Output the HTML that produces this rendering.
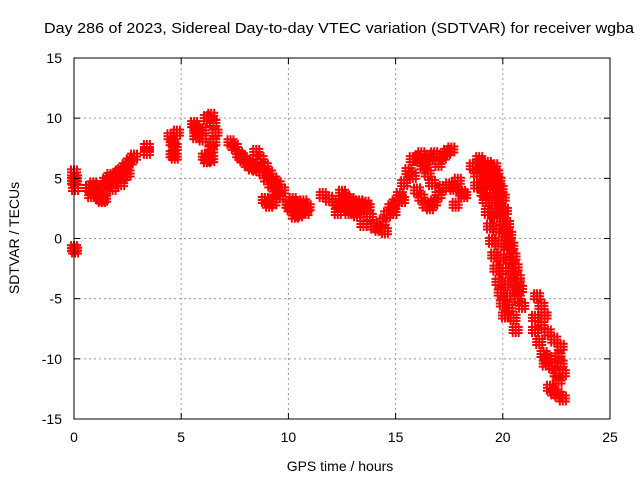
<!DOCTYPE html>
<html><head><meta charset="utf-8"><style>
body{margin:0;background:#fff}
svg text{font-family:"Liberation Sans",sans-serif;font-size:14px;fill:#000}
</style></head><body>
<svg id="c" width="640" height="480">
<text x="44" y="33" textLength="590" lengthAdjust="spacingAndGlyphs" style="font-size:15px">Day 286 of 2023, Sidereal Day-to-day VTEC variation (SDTVAR) for receiver wgba</text>
<g id="grid"></g>
<g id="pts"></g>
<rect x="74" y="58" width="536" height="361" fill="none" stroke="#000"/>
<g id="ticks"></g>
<text x="340" y="471" text-anchor="middle">GPS time / hours</text>
<text transform="translate(19,238) rotate(-90)" text-anchor="middle">SDTVAR / TECUs</text>
</svg>
<script>
const xTicks=[0,5,10,15,20,25];
const yTicks=[-15,-10,-5,0,5,10,15];
const times=[0,0,0.05,0.05,0,0.05,
0.7,0.8,0.9,1.0,1.1,1.2,1.3,1.4,0.9,1.1,
1.2,1.4,1.6,1.8,2.0,2.2,2.4,2.6,2.8,1.5,1.7,1.9,2.1,2.3,2.5,1.8,2.2,
3.4,3.4,4.5,4.6,4.7,4.8,4.6,4.7,
5.6,5.7,5.8,6.0,6.2,6.4,6.5,6.6,6.5,6.4,6.3,6.2,6.1,6.4,5.7,6.0,
7.3,7.5,7.7,7.9,8.1,8.3,8.5,7.8,8.2,
8.5,8.7,8.9,9.1,9.3,9.5,9.7,8.8,9.0,9.2,9.4,9.6,9.3,9.1,8.9,
10.0,10.2,10.4,10.6,10.8,10.9,10.7,10.5,10.3,10.1,
11.6,11.9,12.2,12.4,12.6,12.8,13.0,13.2,13.4,13.6,13.8,12.5,12.9,13.3,13.7,12.3,12.7,13.1,13.5,
14.0,14.2,14.4,14.6,14.8,15.0,15.2,15.4,15.6,15.8,14.5,14.9,15.3,
15.8,16.0,16.2,16.4,16.6,16.8,16.3,16.5,16.7,16.0,16.2,16.4,16.6,16.8,17.0,17.2,17.0,17.2,17.4,17.6,
17.5,17.7,17.9,18.1,17.8,18.2,
18.6,18.8,19.0,19.1,19.2,19.3,19.4,19.5,19.6,19.7,19.8,19.9,20.0,20.1,
18.9,19.0,19.1,19.2,19.3,19.4,19.5,19.6,19.7,19.8,19.9,20.0,20.1,20.2,20.3,
19.3,19.4,19.5,19.6,19.7,19.8,19.9,20.0,20.1,20.2,20.3,20.4,20.5,20.6,20.7,
19.6,19.7,19.8,19.9,20.0,20.1,20.2,20.3,20.4,20.5,20.6,20.7,20.8,20.9,
18.8,19.2,19.6,20.4,20.7,20.5,20.6,
21.6,21.8,21.95,21.5,21.8,22.1,22.4,22.7,21.5,21.7,21.9,22.0,22.1,22.3,22.5,22.6,22.2,22.4,22.6,22.8,22.6,22.7,22.8];
const values=[5.5,4.8,4.2,5.0,-0.8,-1.0,
4.2,3.6,4.5,4.0,3.8,3.4,3.2,3.3,3.9,4.3,
3.5,4.0,4.6,5.0,5.3,5.6,6.0,6.4,6.8,4.8,5.2,4.9,5.5,5.1,5.4,4.2,4.6,
7.6,7.2,8.5,8.0,7.6,8.8,7.0,6.8,
9.5,9.2,8.8,9.0,10.0,10.2,9.6,8.8,8.0,7.4,6.8,6.5,6.8,6.6,8.5,8.3,
8.0,7.6,7.0,6.6,6.2,5.9,5.8,6.8,6.3,
7.2,6.6,6.0,5.4,4.9,4.5,4.0,5.5,5.0,4.5,3.9,3.5,3.0,2.8,3.2,
2.8,3.2,2.9,2.4,2.2,2.6,3.0,2.0,1.9,2.5,
3.6,3.3,3.0,2.8,2.6,2.2,2.4,2.0,2.4,2.9,1.8,3.8,3.2,3.0,2.6,2.2,3.4,2.8,1.2,
1.0,0.8,1.4,2.0,2.6,3.0,3.6,4.6,5.6,6.6,0.6,2.2,3.2,
5.2,6.6,7.0,6.4,6.8,7.0,6.0,5.4,4.6,4.0,3.4,2.8,2.6,3.0,3.6,4.2,6.2,6.8,7.2,7.4,
4.4,4.2,4.8,3.8,2.8,3.6,
6.0,5.4,4.4,3.8,3.2,2.2,1.0,-0.2,-1.4,-2.5,-3.6,-4.5,-5.4,-6.4,
6.6,6.2,5.8,5.2,4.6,3.8,3.0,1.9,0.8,-0.4,-1.6,-2.7,-3.8,-4.8,-5.8,
6.2,5.8,5.4,4.7,4.0,3.2,2.4,1.4,0.4,-0.7,-1.8,-2.7,-3.6,-4.3,-5.0,
6.0,5.4,4.8,4.1,3.4,2.3,1.2,0.3,-0.6,-1.5,-2.4,-3.3,-4.2,-5.6,
4.4,4.6,2.0,-3.0,-3.6,-6.6,-7.6,
-4.8,-5.6,-6.4,-6.6,-7.2,-7.8,-8.4,-9.0,-7.6,-8.6,-9.6,-10.4,-10.0,-10.6,-11.2,-11.8,-12.4,-12.8,-13.0,-13.3,-9.8,-10.4,-11.2];
const X0=74,X1=610,Y0=419,Y1=58;
const xs=t=>X0+(t-0)/25*(X1-X0);
const ys=v=>Y0-(v+15)/30*(Y0-Y1);
const NS='http://www.w3.org/2000/svg';
const g=document.getElementById('grid'),tk=document.getElementById('ticks'),P=document.getElementById('pts');
function mk(tag,at,par){const e=document.createElementNS(NS,tag);for(const k in at)e.setAttribute(k,at[k]);par.appendChild(e);return e;}
xTicks.forEach(t=>{const x=xs(t);
 if(t>0&&t<25){const l=mk('line',{x1:x,x2:x,y1:Y1,y2:Y0,stroke:'#999','stroke-dasharray':'2,3'},g);
 
 }
 mk('line',{x1:x,x2:x,y1:Y0,y2:Y0-6,stroke:'#000'},tk);mk('line',{x1:x,x2:x,y1:Y1,y2:Y1+6,stroke:'#000'},tk);
 const tx=mk('text',{x:x,y:Y0+23,'text-anchor':'middle'},tk);tx.textContent=t;
 
 });
yTicks.forEach(v=>{const y=ys(v);
 if(v>-15&&v<15){const l=mk('line',{x1:X0,x2:X1,y1:y,y2:y,stroke:'#999','stroke-dasharray':'2,3'},g);
 
 }
 mk('line',{x1:X0,x2:X0+6,y1:y,y2:y,stroke:'#000'},tk);mk('line',{x1:X1,x2:X1-6,y1:y,y2:y,stroke:'#000'},tk);
 const tx=mk('text',{x:X0-12,y:y+5,'text-anchor':'end'},tk);tx.textContent=v;
 
 });
let d='';
times.forEach((t,i)=>{const x=xs(t),y=ys(values[i]);
 for(let dx=-3;dx<=3;dx+=3)for(let dy=-3;dy<=3;dy+=3){const cx=x+dx,cy=y+dy;d+=`M${cx-4},${cy}h8M${cx},${cy-4}v8`;}});
const p=mk('path',{d:d,stroke:'#f00','stroke-width':2,fill:'none'},P);


</script>
</body></html>
